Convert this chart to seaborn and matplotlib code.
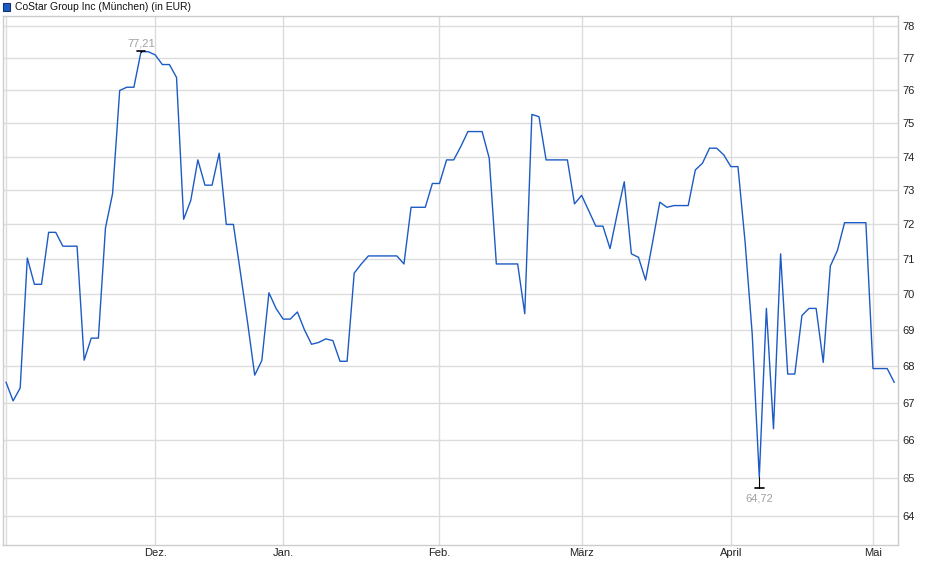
import numpy as np
import pandas as pd
import matplotlib
matplotlib.use('Agg')
import matplotlib.pyplot as plt
import seaborn as sns
from matplotlib import transforms
from matplotlib.patches import Rectangle
from matplotlib.ticker import FixedLocator, FixedFormatter, NullLocator

# Schlusskurse je Handelstag (EUR)
kurs = [
    67.56, 67.05, 67.40, 71.03, 70.28, 70.28, 71.77, 71.77, 71.37, 71.37,
    71.37, 68.16, 68.77, 68.77, 71.90, 72.90, 76.00, 76.10, 76.10, 77.20,
    77.20, 77.10, 76.80, 76.80, 76.40, 72.15, 72.70, 73.90, 73.15, 73.15,
    74.10, 72.00, 72.00, 70.60, 69.20, 67.75, 68.15, 70.04, 69.60, 69.30,
    69.30, 69.50, 69.00, 68.60, 68.65, 68.75, 68.70, 68.13, 68.13, 70.60,
    70.86, 71.09, 71.09, 71.09, 71.09, 71.09, 70.86, 72.50, 72.50, 72.50,
    73.20, 73.20, 73.90, 73.90, 74.30, 74.75, 74.75, 74.75, 73.95, 70.86,
    70.86, 70.86, 70.86, 69.45, 75.27, 75.20, 73.90, 73.90, 73.90, 73.90,
    72.60, 72.85, 72.40, 71.95, 71.95, 71.30, 72.30, 73.25, 71.15, 71.05,
    70.40, 71.50, 72.65, 72.50, 72.55, 72.55, 72.55, 73.60, 73.80, 74.25,
    74.25, 74.05, 73.70, 73.70, 71.50, 68.90, 65.02, 69.60, 66.30, 71.15,
    67.78, 67.78, 69.40, 69.60, 69.60, 68.10, 70.80, 71.25, 72.05, 72.05,
    72.05, 72.05, 67.93, 67.93, 67.93, 67.55,
]
# Hoch / Tief im Zeitraum (Tageswerte)
hoch, tief = 77.21, 64.72
monat_labels = ['Dez.', 'Jan.', 'Feb.', 'März', 'April', 'Mai']
monat_idx = [21, 39, 61, 81, 102, 122]   # erster Handelstag im Monat
y_ticks = [64, 65, 66, 67, 68, 69, 70, 71, 72, 73, 74, 75, 76, 77, 78]
titel = 'CoStar Group Inc (München) (in EUR)'

BLAU = '#1c5bc4'
GRID = '#dcdcdc'

sns.set_style('white')
plt.rcParams['font.family'] = ['Liberation Sans', 'DejaVu Sans']

df = pd.DataFrame({'tag': np.arange(len(kurs)), 'kurs': kurs})

fig = plt.figure(figsize=(9.4, 5.79), dpi=100)
ax = fig.add_axes([3 / 940, 34 / 579, 895 / 940, 529 / 579])

sns.lineplot(data=df, x='tag', y='kurs', ax=ax, color=BLAU, lw=1.0, zorder=3)

ax.set_yscale('log')
ax.set_ylim(63.26, 78.32)
ax.set_xlim(-0.42, 125.52)
ax.yaxis.set_major_locator(FixedLocator(y_ticks))
ax.yaxis.set_minor_locator(NullLocator())
ax.yaxis.set_major_formatter(FixedFormatter([str(t) for t in y_ticks]))
ax.yaxis.tick_right()
ax.set_xticks(monat_idx, monat_labels)
ax.set_xlabel('')
ax.set_ylabel('')

ax.grid(True, color=GRID, lw=1.0)
ax.set_axisbelow(True)
ax.axvline(0, color=GRID, lw=1.0, zorder=0)
for s in ax.spines.values():
    s.set_color('#cccccc')
    s.set_linewidth(1.0)
ax.tick_params(axis='both', length=0, labelsize=8, labelcolor='#222222')
ax.tick_params(axis='y', pad=3)
ax.tick_params(axis='x', pad=2)

# Hoch / Tief markieren
i_max, i_min = int(np.argmax(kurs)), int(np.argmin(kurs))
fmt = lambda v: f'{v:.2f}'.replace('.', ',')
ax.plot([i_max - 0.6, i_max + 0.6], [hoch, hoch], color='black', lw=1.2, zorder=4)
ax.plot([i_max, i_max], [kurs[i_max], hoch], color='black', lw=0.8, zorder=4)
ax.annotate(fmt(hoch), (i_max, hoch), xytext=(0, 8), textcoords='offset pixels',
            ha='center', va='center', fontsize=8, color='#a0a0a0')
ax.plot([i_min - 0.6, i_min + 0.6], [tief, tief], color='black', lw=1.2, zorder=4)
ax.plot([i_min, i_min], [kurs[i_min], tief], color='black', lw=0.8, zorder=4)
ax.annotate(fmt(tief), (i_min, tief), xytext=(0, -10), textcoords='offset pixels',
            ha='center', va='center', fontsize=8, color='#a0a0a0')

# Legende oben links
fig.patches.append(Rectangle((3 / 940, 1 - 11 / 579), 7 / 940, 8 / 579,
                             transform=fig.transFigure, facecolor=BLAU,
                             edgecolor='#15336e', lw=0.8))
fig.text(15 / 940, 1 - 7 / 579, titel, fontsize=7.5, color='#111111', va='center', ha='left')

fig.savefig('out.png', dpi=100)
